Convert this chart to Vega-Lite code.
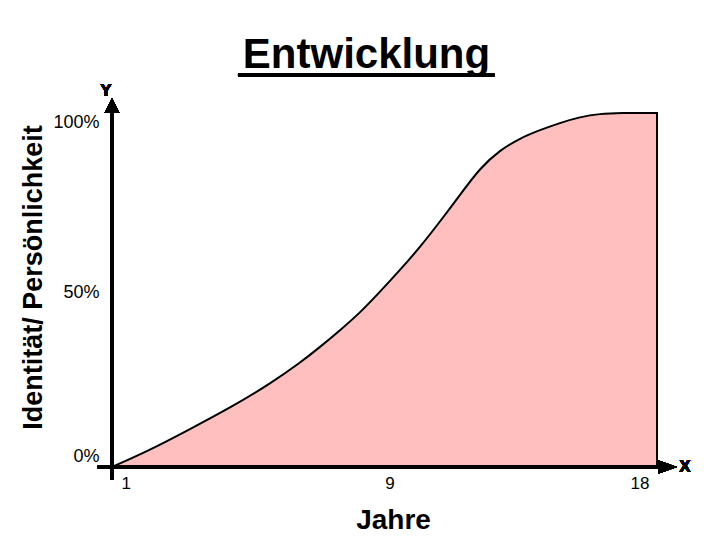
{
  "$schema": "https://vega.github.io/schema/vega-lite/v6.json",
  "autosize": "none",
  "width": 545,
  "height": 354,
  "padding": {"left": 112, "top": 113, "right": 63, "bottom": 73},
  "background": "white",
  "config": {
    "view": {"stroke": null},
    "font": "Liberation Sans"
  },
  "title": {
    "text": "Entwicklung",
    "font": "Liberation Sans",
    "fontSize": 42,
    "fontWeight": "bold",
    "color": "black",
    "frame": "group",
    "anchor": "middle",
    "baseline": "alphabetic",
    "offset": -36,
    "dx": -18
  },
  "data": {
    "values": [
      {"Jahre": 1, "Wert": 0},
      {"Jahre": 2.19, "Wert": 4.8},
      {"Jahre": 3.43, "Wert": 10.7},
      {"Jahre": 4.68, "Wert": 16.7},
      {"Jahre": 5.93, "Wert": 23.5},
      {"Jahre": 6.86, "Wert": 29.4},
      {"Jahre": 7.49, "Wert": 33.9},
      {"Jahre": 8.11, "Wert": 38.6},
      {"Jahre": 8.74, "Wert": 43.6},
      {"Jahre": 9.36, "Wert": 49.5},
      {"Jahre": 9.98, "Wert": 55.6},
      {"Jahre": 10.61, "Wert": 62.1},
      {"Jahre": 11.39, "Wert": 71.2},
      {"Jahre": 11.85, "Wert": 76.8},
      {"Jahre": 12.48, "Wert": 84.5},
      {"Jahre": 13.10, "Wert": 89.5},
      {"Jahre": 13.73, "Wert": 92.9},
      {"Jahre": 14.35, "Wert": 95.2},
      {"Jahre": 14.97, "Wert": 97.2},
      {"Jahre": 15.60, "Wert": 98.9},
      {"Jahre": 16.22, "Wert": 99.8},
      {"Jahre": 16.85, "Wert": 100},
      {"Jahre": 18, "Wert": 100}
    ]
  },
  "layer": [
    {
      "mark": {"type": "area", "interpolate": "basis", "fill": "#FFBFBF", "stroke": "black", "strokeWidth": 2, "clip": false},
      "encoding": {
        "x": {
          "field": "Jahre", "type": "quantitative",
          "scale": {"domain": [1, 18], "nice": false, "zero": false},
          "axis": {
            "values": [1, 9, 18],
            "domain": false, "ticks": false, "grid": false,
            "labelFont": "Liberation Sans", "labelFontSize": 17, "labelColor": "black",
            "labelPadding": 8,
            "labelOffset": {"expr": "datum.value == 1 ? 9 : datum.value == 9 ? 21 : -8"},
            "title": "Jahre",
            "titleFont": "Liberation Sans", "titleFontSize": 28, "titleFontWeight": "bold", "titleColor": "black",
            "titleX": 281, "titleY": 53, "titleBaseline": "middle", "titleAlign": "center"
          }
        },
        "y": {
          "field": "Wert", "type": "quantitative",
          "scale": {"domain": [0, 100], "nice": false, "zero": false},
          "axis": {
            "values": [0, 50, 100],
            "labelExpr": "datum.value + '%'",
            "domain": false, "ticks": false, "grid": false,
            "labelFont": "Liberation Sans", "labelFontSize": 18, "labelColor": "black",
            "labelPadding": 13,
            "labelBaseline": "middle",
            "labelOffset": {"expr": "datum.value == 0 ? -11 : datum.value == 100 ? 9 : 2"},
            "title": "Identität/ Persönlichkeit",
            "titleFont": "Liberation Sans", "titleFontSize": 27, "titleFontWeight": "bold", "titleColor": "black",
            "titleAngle": 270, "titleX": -79, "titleY": 164, "titleBaseline": "middle", "titleAlign": "center"
          }
        }
      }
    },
    {
      "mark": {"type": "rule", "color": "black", "strokeWidth": 3.5, "clip": false},
      "encoding": {
        "x": {"datum": 1, "type": "quantitative"},
        "y": {"datum": -3.7, "type": "quantitative"},
        "y2": {"datum": 101}
      }
    },
    {
      "mark": {"type": "rule", "color": "black", "strokeWidth": 3.5, "clip": false},
      "encoding": {
        "x": {"datum": 0.56, "type": "quantitative"},
        "x2": {"datum": 18.2},
        "y": {"datum": 0, "type": "quantitative"}
      }
    },
    {
      "mark": {"type": "point", "shape": "M0,-1L1,1L-1,1Z", "filled": true, "color": "black", "opacity": 1, "size": 225, "clip": false},
      "encoding": {
        "x": {"datum": 1, "type": "quantitative"},
        "y": {"datum": 102.1, "type": "quantitative"}
      }
    },
    {
      "mark": {"type": "point", "shape": "M-1,-0.7L1,0L-1,0.7Z", "filled": true, "color": "black", "opacity": 1, "size": 361, "clip": false},
      "encoding": {
        "x": {"datum": 18.33, "type": "quantitative"},
        "y": {"datum": 0, "type": "quantitative"}
      }
    },
    {
      "mark": {"type": "text", "text": "Y", "font": "Liberation Sans", "fontSize": 17, "fontWeight": "bold", "color": "black", "align": "center", "baseline": "middle", "clip": false},
      "encoding": {
        "x": {"datum": 0.81, "type": "quantitative"},
        "y": {"datum": 106.2, "type": "quantitative"}
      }
    },
    {
      "mark": {"type": "text", "text": "X", "font": "Liberation Sans", "fontSize": 17, "fontWeight": "bold", "color": "black", "align": "center", "baseline": "middle", "clip": false},
      "encoding": {
        "x": {"datum": 18.87, "type": "quantitative"},
        "y": {"datum": 0, "type": "quantitative"}
      }
    },
    {
      "mark": {"type": "rule", "color": "black", "strokeWidth": 3, "clip": false},
      "encoding": {
        "x": {"datum": 4.93, "type": "quantitative"},
        "x2": {"datum": 12.92},
        "y": {"datum": 110.7, "type": "quantitative"}
      }
    }
  ]
}
